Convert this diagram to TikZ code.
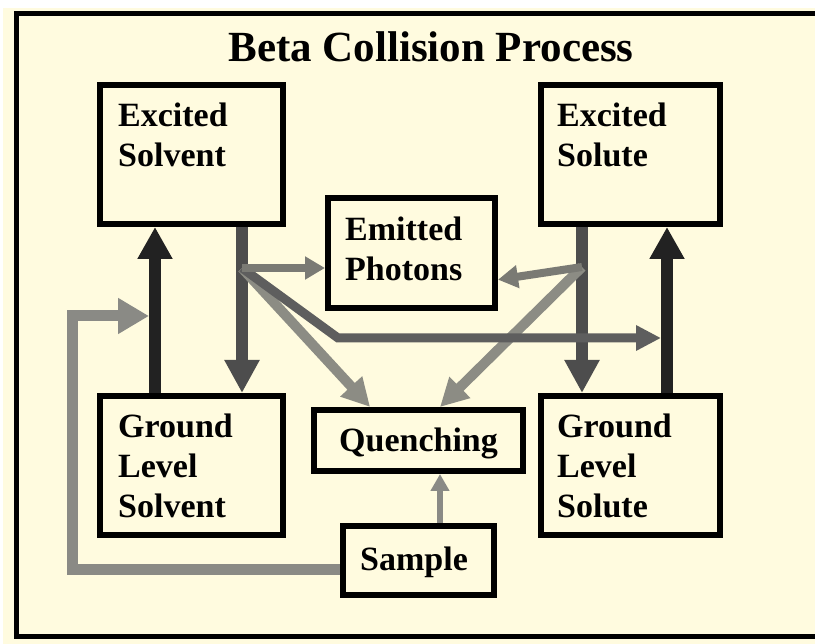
\documentclass[tikz,border=0pt]{standalone}
\usepackage{fontspec}
\setmainfont{Liberation Serif}
\usetikzlibrary{arrows.meta,calc}
\definecolor{paper}{HTML}{FFFBDF}
\definecolor{pumpc}{HTML}{222222}
\definecolor{decayc}{HTML}{4D4D4D}
\definecolor{quenchc}{HTML}{8C8C84}
\definecolor{xferc}{HTML}{5E5E5E}
\definecolor{lightc}{HTML}{7A7A74}
\definecolor{feedc}{HTML}{8A8A85}
\begin{document}
\begin{tikzpicture}[x=1pt,y=-1pt,
  box/.style={draw=black, line width=6pt, inner sep=0pt},
  lbl/.style={font=\bfseries\fontsize{34}{40}\selectfont, align=left, inner sep=0pt, anchor=base west},
  pump/.style={line width=12pt, color=pumpc, -{Triangle[width=33pt,length=32pt]}},
  decay/.style={line width=12pt, color=decayc, -{Triangle[width=33pt,length=33pt]}},
  lightray/.style={line width=8pt, color=lightc, -{Triangle[width=22pt,length=20pt]}},
  quench/.style={line width=10pt, color=quenchc, -{Triangle[width=28pt,length=28pt]}},
  transfer/.style={line width=9pt, color=xferc, line join=miter, -{Triangle[width=24pt,length=25pt]}},
  feed/.style={line width=11pt, color=feedc, line join=miter, -{Triangle[width=34pt,length=31pt]}},
  feedq/.style={line width=6pt, color=feedc, -{Triangle[width=18pt,length=17pt]}}]
\useasboundingbox (0,0) rectangle (815,644);
\fill[white] (0,0) rectangle (815,644);
\fill[paper] (3,8) rectangle (815,644);
% outer frame, open on the right
\draw[line width=5pt] (830,14) -- (16,14) -- (16,636) -- (830,636);

% title
\node[font=\bfseries\fontsize{43}{48}\selectfont, inner sep=0pt, anchor=base] (title) at (431,62) {Beta Collision Process};

% boxes
\node[box, minimum width=183pt, minimum height=139pt] (es) at (191.5,154.5) {};
\node[box, minimum width=183pt, minimum height=139pt] (gls) at (191.5,465.5) {};
\node[box, minimum width=179pt, minimum height=139pt] (eso) at (630.5,154.5) {};
\node[box, minimum width=179pt, minimum height=139pt] (glso) at (630.5,465.5) {};
\node[box, minimum width=167pt, minimum height=110pt] (ep) at (411.5,253) {};
\node[box, minimum width=209pt, minimum height=61pt] (q) at (418.5,440.5) {};
\node[box, minimum width=151pt, minimum height=69pt] (s) at (418.5,560.5) {};

% box labels (anchored at the baseline of the last line)
\node[lbl] (es-t) at (118,167) {Excited\\Solvent};
\node[lbl] (gls-t) at (118,518) {Ground\\Level\\Solvent};
\node[lbl] (eso-t) at (557,167) {Excited\\Solute};
\node[lbl] (glso-t) at (557,518) {Ground\\Level\\Solute};
\node[lbl] (ep-t) at (345,281) {Emitted\\Photons};
\node[lbl, anchor=base] (q-t) at (418.5,452) {Quenching};
\node[lbl] (s-t) at (360,570) {Sample};

% vertical positions of the arrows
\coordinate (xa) at (155,0);
\coordinate (xb) at (242,0);
\coordinate (xc) at (582,0);
\coordinate (xd) at (667,0);
\coordinate (xq) at (440,0);

% excitation and decay
\draw[pump] (gls.north -| xa) -- (es.south -| xa);
\draw[decay] (es.south -| xb) -- (gls.north -| xb);
\draw[decay] (eso.south -| xc) -- (glso.north -| xc);
\draw[pump] (glso.north -| xd) -- (eso.south -| xd);

% branch points on the decay arrows
\coordinate (bl) at (242,268);
\coordinate (br) at (582,267);

% quenching paths
\draw[quench] (bl) -- ($(q.north west)!0.275!(q.north east)$);
\draw[quench] (br) -- ($(q.north west)!0.6!(q.north east)$);

% solvent to solute energy transfer
\coordinate (tk) at (338,338);
\coordinate (tend) at (661,338);
\draw[transfer] (bl) -- (tk) -- (tend);

% photon emission
\draw[lightray] (bl) -- (ep.west |- bl);
\draw[lightray] (br) -- ($(ep.north east)!0.73!(ep.south east)$);

% sample feed
\coordinate (sf) at ($(s.north west)!0.62!(s.south west)$);
\coordinate (lc) at (72,316);
\coordinate (ft) at (149,316);
\draw[feed] (sf) -| (lc) -- (ft);
\draw[feedq] (s.north -| xq) -- (q.south -| xq);
\end{tikzpicture}
\end{document}
